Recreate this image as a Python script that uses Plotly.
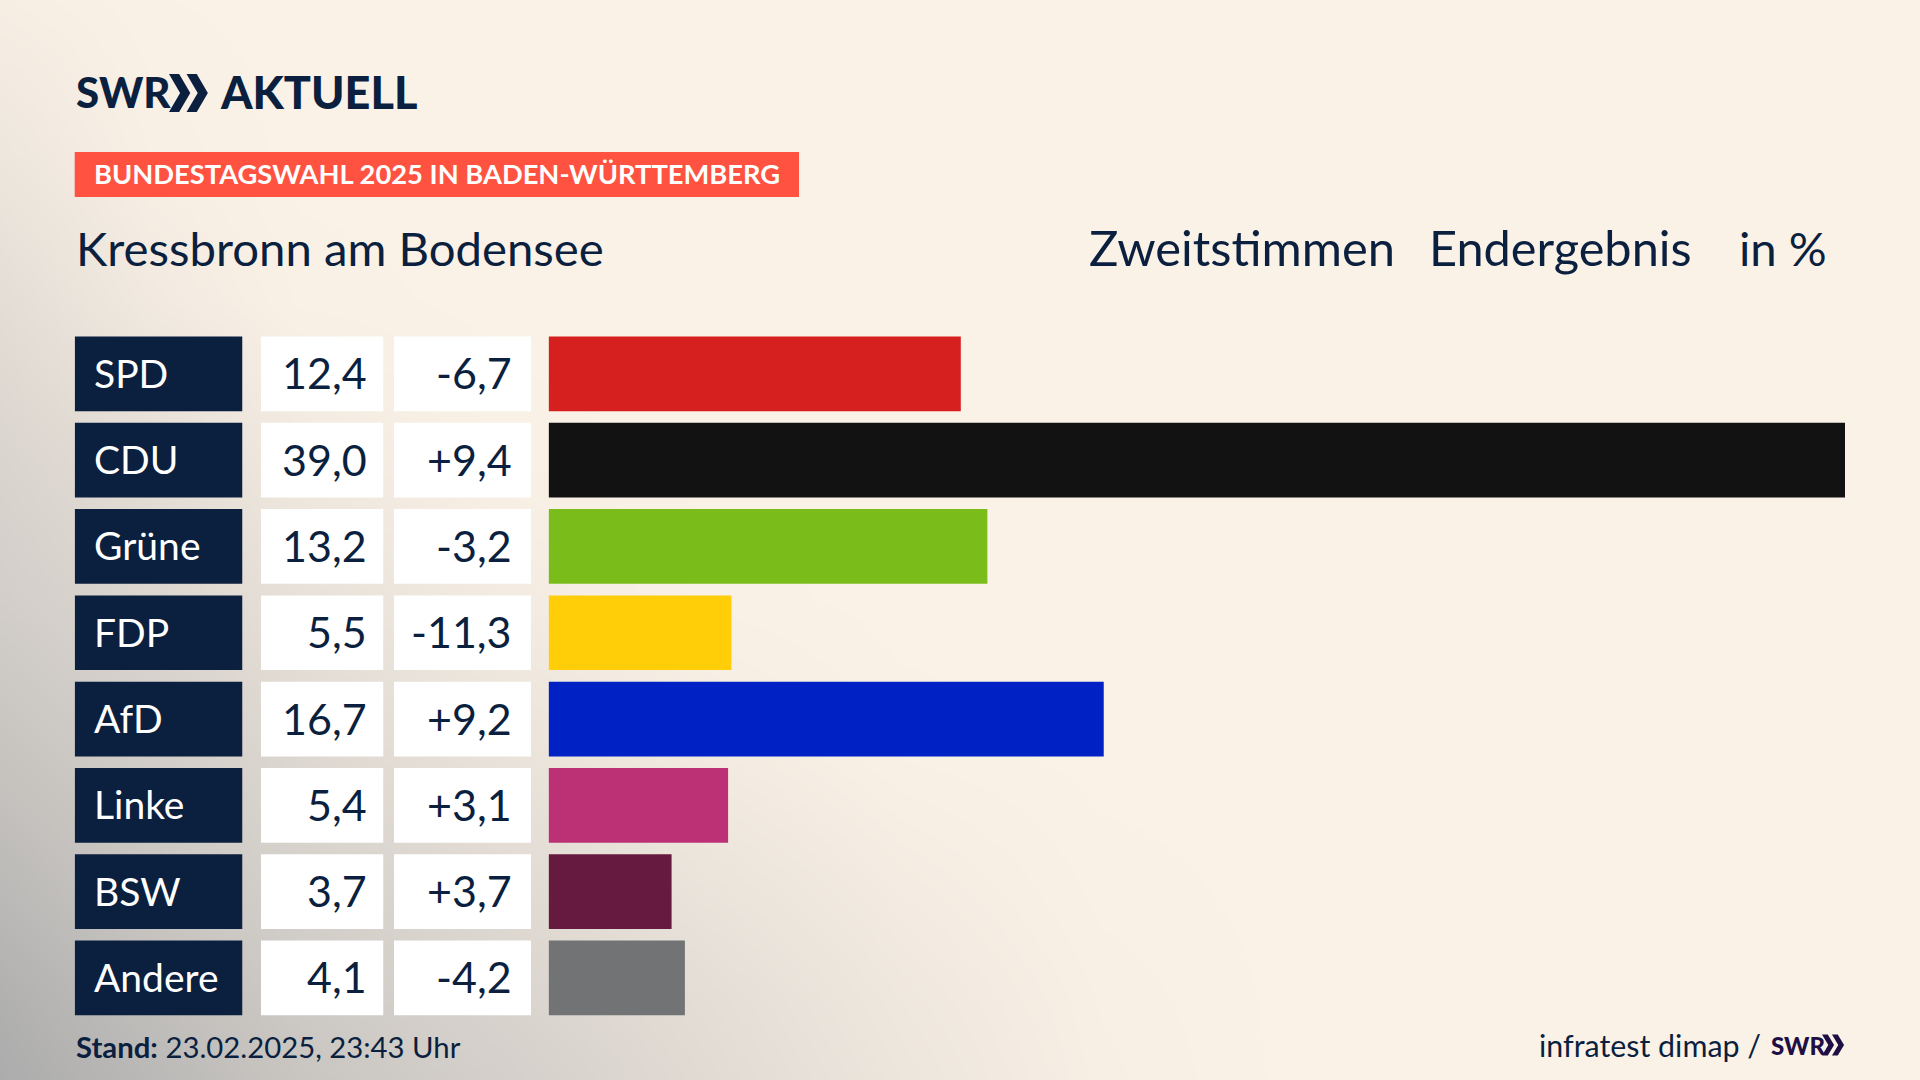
import plotly.graph_objects as go

W, H = 1920, 1080

parties = ["SPD", "CDU", "Grüne", "FDP", "AfD", "Linke", "BSW", "Andere"]
results = [12.4, 39.0, 13.2, 5.5, 16.7, 5.4, 3.7, 4.1]
changes = [-6.7, 9.4, -3.2, -11.3, 9.2, 3.1, 3.7, -4.2]
bar_colors = ["#D61F1F", "#121212", "#7ABD1B", "#FFCE08", "#0021C4", "#BC3175", "#671A3F", "#727374"]

# background shading (0 = cream, 1 = grey corner)
bg_x = [0, 150, 300, 500, 700, 900, 1100, 1300, 1920]
bg_y = [0, 150, 300, 450, 600, 750, 900, 1000, 1080]
bg_z = [
    [0.06, 0.01, 0.00, 0.00, 0.00, 0.00, 0.00, 0.00, 0.00],
    [0.16, 0.04, 0.00, 0.00, 0.00, 0.00, 0.00, 0.00, 0.00],
    [0.30, 0.12, 0.02, 0.00, 0.00, 0.00, 0.00, 0.00, 0.00],
    [0.42, 0.28, 0.12, 0.02, 0.00, 0.00, 0.00, 0.00, 0.00],
    [0.52, 0.40, 0.25, 0.10, 0.02, 0.00, 0.00, 0.00, 0.00],
    [0.66, 0.52, 0.38, 0.22, 0.10, 0.02, 0.00, 0.00, 0.00],
    [0.82, 0.64, 0.50, 0.36, 0.22, 0.10, 0.02, 0.00, 0.00],
    [0.94, 0.74, 0.58, 0.44, 0.30, 0.15, 0.04, 0.00, 0.00],
    [1.00, 0.82, 0.64, 0.50, 0.34, 0.18, 0.05, 0.00, 0.00],
]

NAVY = "#0B1F3F"
PURPLE = "#1E0F45"
CREAM = "#FBF2E7"
FONT = "Lato"


def px(x):
    return x / W


def py(y):
    return 1 - y / H


def comma(v, sign=False):
    s = f"{v:+.1f}" if sign else f"{v:.1f}"
    return s.replace(".", ",")


fig = go.Figure()

fig.add_trace(go.Heatmap(
    x=bg_x, y=bg_y, z=bg_z, zmin=0, zmax=1, zsmooth="best", showscale=False,
    colorscale=[[0, CREAM], [1, "#ACACAC"]], hoverinfo="skip", xaxis="x", yaxis="y"))

# one bar trace per column, all on the same category axis
columns = [
    ("x2", (74.7, 242.5), [1] * 8, NAVY, [0, 1]),
    ("x3", (261, 383.5), [1] * 8, "white", [0, 1]),
    ("x4", (394, 531), [1] * 8, "white", [0, 1]),
    ("x5", (548.6, 1845), results, bar_colors, [0, 39]),
]
for name, dom, vals, color, rng in columns:
    fig.add_trace(go.Bar(
        y=parties, x=vals, orientation="h", marker=dict(color=color, line_width=0),
        hoverinfo="skip", xaxis=name, yaxis="y2", showlegend=False))
    fig.layout["xaxis" + name[1:]] = dict(
        domain=[px(dom[0]), px(dom[1])], range=rng, visible=False, anchor="y2", fixedrange=True)

fig.update_layout(
    width=W, height=H, margin=dict(l=0, r=0, t=0, b=0, pad=0),
    paper_bgcolor=CREAM, plot_bgcolor="rgba(0,0,0,0)", showlegend=False,
    bargap=0.134,
    xaxis=dict(domain=[0, 1], range=[0, W], visible=False, fixedrange=True),
    yaxis=dict(domain=[0, 1], range=[H, 0], visible=False, fixedrange=True),
    yaxis2=dict(domain=[py(1021.1), py(330.7)], autorange="reversed", visible=False,
                anchor="x2", fixedrange=True, categoryorder="array", categoryarray=parties),
    font=dict(family=FONT, color=NAVY),
)


def note(text, x, y, size, anchor="left", color=NAVY, yref="paper", weight=None, yshift=0):
    fig.add_annotation(
        text=text, x=px(x), y=py(y) if yref == "paper" else y, xref="paper", yref=yref,
        xanchor=anchor, yanchor="middle", showarrow=False, yshift=yshift,
        font=dict(size=size, color=color, family=FONT, weight=weight))


for p, r, c in zip(parties, results, changes):
    note(p, 92, p, 39, color="white", yref="y2", yshift=1)
    note(comma(r), 368.5, p, 43, anchor="right", yref="y2", yshift=1)
    note(comma(c, sign=True), 513.5, p, 43, anchor="right", yref="y2", yshift=1)

# header
note("SWR", 74, 92, 42, weight=900)
note("AKTUELL", 218, 92, 45, weight=900)
fig.add_shape(type="rect", xref="paper", yref="paper", x0=px(74.7), x1=px(799), y0=py(197), y1=py(152),
              fillcolor="#FF5240", line_width=0)
note("<b>BUNDESTAGSWAHL 2025 IN BADEN-WÜRTTEMBERG</b>", 92, 174, 27.3, color="white")
note("Kressbronn am Bodensee", 73.5, 247, 47.3)
note("Zweitstimmen", 1087, 247, 48.9)
note("Endergebnis", 1427, 247, 48.7)
note("in %", 1737, 247, 47.3)

# footer
note("<b>Stand:</b> 23.02.2025, 23:43 Uhr", 74, 1046, 29.3)
note("infratest dimap /", 1537, 1045, 30.4)
note("SWR", 1769, 1045, 24, color=PURPLE, weight=900)


def chevrons(x, y, h, w, color):
    # two right-pointing arrow heads of height h starting at x, centred on y
    path = ""
    for off in (0, w * 0.95):
        x0 = x + off
        pts = [(x0, y - h / 2), (x0 + w * 0.55, y - h / 2), (x0 + w * 1.15, y), (x0 + w * 0.55, y + h / 2),
               (x0, y + h / 2), (x0 + w * 0.6, y)]
        path += "M " + " L ".join(f"{px(a):.5f},{py(b):.5f}" for a, b in pts) + " Z "
    fig.add_shape(type="path", path=path, xref="paper", yref="paper", fillcolor=color, line_width=0)


chevrons(169, 93, 38, 18.5, NAVY)
chevrons(1822, 1045, 21, 10.5, PURPLE)

fig.write_html("out.html", config=dict(displayModeBar=False), post_script="document.body.style.margin='0';")
